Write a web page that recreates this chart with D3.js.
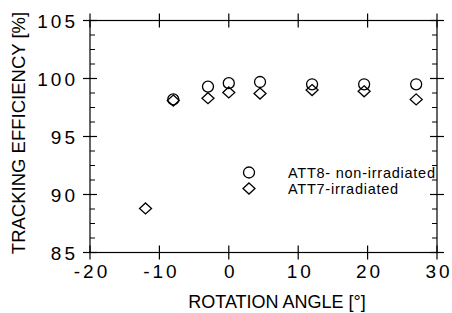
<!DOCTYPE html>
<html>
<head>
<meta charset="utf-8">
<script src="https://cdn.jsdelivr.net/npm/d3@7"></script>
<style>
  body { margin: 0; background: #fff; }
  svg { display: block; font-family: "Liberation Sans", Arial, sans-serif; }
</style>
</head>
<body>
<div id="chart"></div>
<script>
// 数据
const att8Angles = [-8, -3, 0, 4.5, 12, 19.5, 27];
const att8Values = [98.2, 99.3, 99.6, 99.7, 99.5, 99.5, 99.5];
const att7Angles = [-12, -8, -3, 0, 4.5, 12, 19.5, 27];
const att7Values = [88.8, 98.1, 98.3, 98.8, 98.7, 99.0, 98.9, 98.2];
const xTicks = [-20, -10, 0, 10, 20, 30];
const yTicks = [85, 90, 95, 100, 105];
const legendLabels = ["ATT8- non-irradiated", "ATT7-irradiated"];

const width = 452, height = 313;
const margin = {top: 20.5, right: 15, bottom: 60.5, left: 90};

const svg = d3.select("#chart").append("svg")
    .attr("width", width)
    .attr("height", height);

const x = d3.scaleLinear().domain([-20, 30]).range([margin.left, width - margin.right]);
const y = d3.scaleLinear().domain([85, 105]).range([height - margin.bottom, margin.top]);

const x0 = x.range()[0], x1 = x.range()[1];
const y0 = y.range()[0], y1 = y.range()[1];

// 框线
svg.append("rect")
   .attr("x", x0).attr("y", y1)
   .attr("width", x1 - x0).attr("height", y0 - y1)
   .attr("fill", "none").attr("stroke", "#000").attr("stroke-width", 1.2);

// 主刻度（穿过轴线）
const major = 7;
xTicks.forEach(t => {
    [y0, y1].forEach(yy => {
        svg.append("line")
           .attr("x1", x(t)).attr("x2", x(t))
           .attr("y1", yy - major).attr("y2", yy + major)
           .attr("stroke", "#000").attr("stroke-width", 1.2);
    });
});
yTicks.forEach(t => {
    [x0, x1].forEach(xx => {
        svg.append("line")
           .attr("x1", xx - major).attr("x2", xx + major)
           .attr("y1", y(t)).attr("y2", y(t))
           .attr("stroke", "#000").attr("stroke-width", 1.2);
    });
});

// 次刻度（向内）
const minorY = d3.range(85, 105.01, 1.25).filter(v => !yTicks.includes(v));
minorY.forEach(t => {
    svg.append("line")
       .attr("x1", x0).attr("x2", x0 + 5)
       .attr("y1", y(t)).attr("y2", y(t))
       .attr("stroke", "#000");
    svg.append("line")
       .attr("x1", x1 - 5).attr("x2", x1)
       .attr("y1", y(t)).attr("y2", y(t))
       .attr("stroke", "#000");
});

// 刻度标签
svg.selectAll(".xlab").data(xTicks).enter().append("text")
   .attr("x", d => x(d) + 2)
   .attr("y", 278)
   .attr("text-anchor", "middle")
   .attr("font-size", 19)
   .attr("letter-spacing", 3)
   .text(d => d < 0 ? "-" + Math.abs(d) : d);

svg.selectAll(".ylab").data(yTicks).enter().append("text")
   .attr("x", 78)
   .attr("y", d => y(d) + 7)
   .attr("text-anchor", "end")
   .attr("font-size", 19)
   .attr("letter-spacing", 3)
   .text(d => d);

// 轴标题
svg.append("text")
   .attr("x", 277)
   .attr("y", 308)
   .attr("text-anchor", "middle")
   .attr("font-size", 18)
   .text("ROTATION ANGLE [°]");

svg.append("text")
   .attr("transform", "translate(25,133) rotate(-90)")
   .attr("text-anchor", "middle")
   .attr("font-size", 18.5)
   .text("TRACKING EFFICIENCY [%]");

// 标记
const diamond = "M0,-5.5L6,0L0,5.5L-6,0Z";

svg.selectAll(".c8").data(att8Angles).enter().append("circle")
   .attr("cx", d => x(d))
   .attr("cy", (d, i) => y(att8Values[i]))
   .attr("r", 5.5)
   .attr("fill", "none").attr("stroke", "#000").attr("stroke-width", 1.3);

svg.selectAll(".d7").data(att7Angles).enter().append("path")
   .attr("d", diamond)
   .attr("transform", (d, i) => `translate(${x(d)},${y(att7Values[i])})`)
   .attr("fill", "none").attr("stroke", "#000").attr("stroke-width", 1.3);

// 图例
const legend = svg.append("g");
legend.append("circle")
   .attr("cx", 249).attr("cy", 172.5)
   .attr("r", 5.5)
   .attr("fill", "none").attr("stroke", "#000").attr("stroke-width", 1.3);
legend.append("path")
   .attr("d", diamond)
   .attr("transform", "translate(249,188.5)")
   .attr("fill", "none").attr("stroke", "#000").attr("stroke-width", 1.3);
legendLabels.forEach((lab, i) => {
    legend.append("text")
       .attr("x", 288)
       .attr("y", 177.5 + i * 16)
       .attr("font-size", 14.5)
       .attr("letter-spacing", 0.75)
       .text(lab);
});
</script>
</body>
</html>
